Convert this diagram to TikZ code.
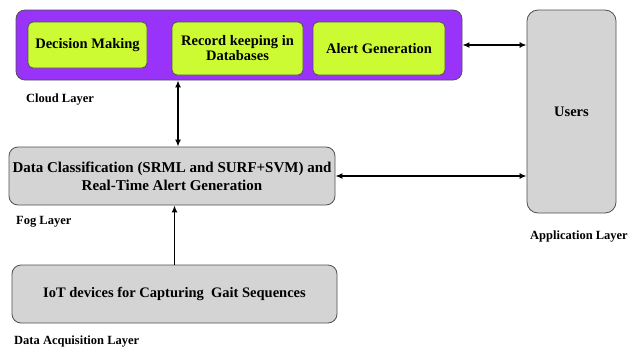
\documentclass[tikz,border=0pt]{standalone}
\usepackage{fontspec}
\setmainfont{Liberation Serif}[BoldFont={Liberation Serif Bold}]
\usetikzlibrary{arrows.meta,calc}
\definecolor{cloudpurple}{RGB}{153,51,250}
\definecolor{boxgreen}{RGB}{204,250,51}
\definecolor{boxgray}{RGB}{212,212,212}
\definecolor{edgegray}{RGB}{80,80,80}
\begin{document}
\begin{tikzpicture}[x=1pt,y=-1pt,
  mainfont/.style={font=\rmfamily\fontsize{14.5}{16}\selectfont\bfseries},
  labelfont/.style={font=\rmfamily\fontsize{12.5}{14}\selectfont\bfseries},
  cloudbox/.style={draw=edgegray,line width=0.8pt,fill=cloudpurple,rounded corners=9pt,inner sep=0pt},
  greenbox/.style={draw=edgegray,line width=0.8pt,fill=boxgreen,rounded corners=5pt,inner sep=0pt,align=center,mainfont},
  graybox/.style={draw=edgegray,line width=0.8pt,fill=boxgray,rounded corners=9pt,inner sep=0pt,align=center,mainfont},
  layerlabel/.style={anchor=west,inner sep=0pt,labelfont},
  conn/.style={line width=1.7pt,{Latex[length=7pt,width=6pt]}-{Latex[length=7pt,width=6pt]}},
  conn1/.style={line width=1.7pt,-{Latex[length=7pt,width=6pt]}}]
\useasboundingbox (0,0) rectangle (628,348);
\fill[white] (0,0) rectangle (628,348);
% cloud layer
\node[cloudbox,minimum width=446pt,minimum height=70pt] (cloud) at (239,45) {};
\node[greenbox,minimum width=119pt,minimum height=46pt] (dm) at (87.5,45) {Decision Making};
\node[greenbox,minimum width=131pt,minimum height=53pt] (rk) at (237.5,48.5) {Record keeping in\\[-1pt]Databases};
\node[greenbox,minimum width=132pt,minimum height=53pt] (ag) at (379,48.5) {Alert Generation};
\node[layerlabel] (cloudlbl) at (26,100) {Cloud Layer};
% application layer
\node[graybox,rounded corners=11pt,minimum width=89pt,minimum height=203pt] (users) at (571.5,111.5) {Users};
\node[layerlabel] (applbl) at (530,237) {Application Layer};
% fog layer
\node[graybox,font=\rmfamily\fontsize{15}{17}\selectfont\bfseries,minimum width=326pt,minimum height=58pt] (fog) at (172,176) {Data Classification (SRML and SURF+SVM) and\\[1pt]Real-Time Alert Generation};
\node[layerlabel] (foglbl) at (16,222) {Fog Layer};
% data acquisition layer
\node[graybox,minimum width=325pt,minimum height=58pt] (iot) at (174.5,294) {IoT devices for Capturing~ Gait Sequences};
\node[layerlabel] (dalbl) at (14,342) {Data Acquisition Layer};
% connectors
\coordinate (cfx) at (178,0);
\draw[conn] (cfx |- cloud.south) -- (cfx |- fog.north);
\draw[conn] (cloud.east) -- (users.west |- cloud.east);
\draw[conn] (fog.east) -- (users.west |- fog.east);
\draw[conn1] (iot.north) -- (iot.north |- fog.south);
\end{tikzpicture}
\end{document}
